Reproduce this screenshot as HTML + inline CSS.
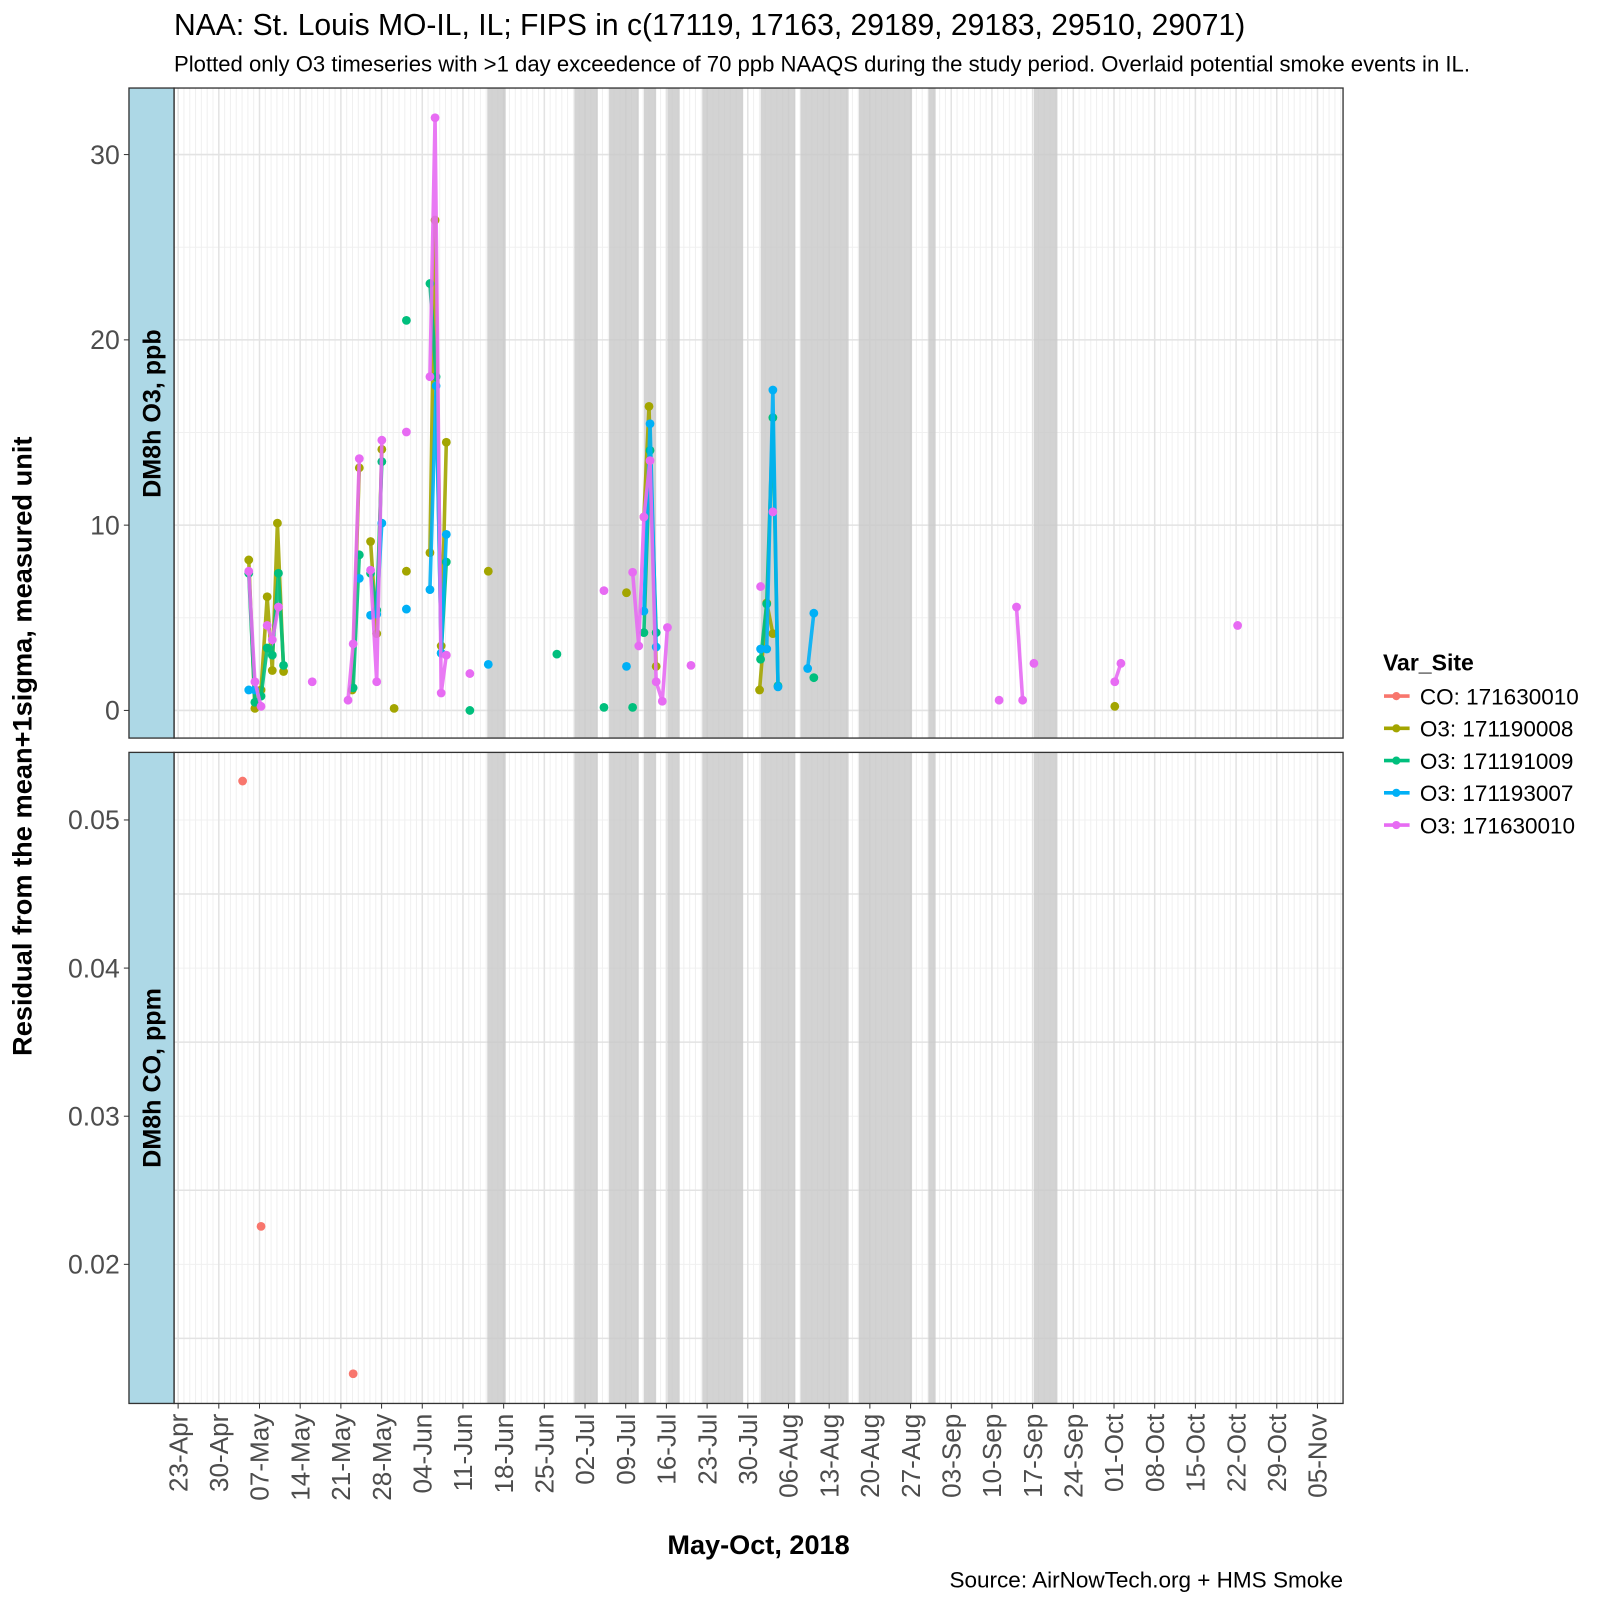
<!DOCTYPE html>
<html><head><meta charset="utf-8"><style>
body{margin:0;background:#fff}
svg text{font-family:"Liberation Sans",Arial,sans-serif}
</style></head><body>
<svg id="s" width="1600" height="1600" xmlns="http://www.w3.org/2000/svg">
<rect width="1600" height="1600" fill="#fff"/>
<g transform="scale(1.02367)">
<text x="170" y="34" font-size="29.4">NAA: St. Louis MO-IL, IL; FIPS in c(17119, 17163, 29189, 29183, 29510, 29071)</text>
<text x="170" y="70" font-size="21.6">Plotted only O3 timeseries with &gt;1 day exceedence of 70 ppb NAAQS during the study period. Overlaid potential smoke events in IL.</text>
<g id="g"></g>
<text x="741" y="1518" font-size="26.5" font-weight="bold" text-anchor="middle">May-Oct, 2018</text>
<text x="1312" y="1551" font-size="22" text-anchor="end">Source: AirNowTech.org + HMS Smoke</text>
<text transform="translate(31,729) rotate(-90)" font-size="26.6" font-weight="bold" text-anchor="middle">Residual from the mean+1sigma, measured unit</text>
<text x="1351" y="655" font-size="22.5" font-weight="bold">Var_Site</text>
</g>
</svg>
<script>
const g=document.getElementById('g');let h='';
const X0=170,X1=1312,P1=[86,721],P2=[735,1371];
const bands=[[476,494],[561,584],[595,624],[629,641],[652,664],[686,726],[743,777],[782,829],[839,891],[907,914],[1010,1033]];
const day=39.75/7;
function panel(T,B){
 for(let x=174-day*10;x<X1;x+=day){if(x>X0)h+=`<line x1="${x}" x2="${x}" y1="${T}" y2="${B}" stroke="#f0f0f0" stroke-width="1"/>`;}
}
panel(...P1);panel(...P2);
for(let v=-5;v<=35;v+=5){let y=694-18.1*v;if(y>P1[0]&&y<P1[1])h+=`<line x1="${X0}" x2="${X1}" y1="${y}" y2="${y}" stroke="${v%10?'#f0f0f0':'#e3e3e3'}" stroke-width="${v%10?1:1.5}"/>`;}
for(let k=0;k<10;k++){let v=0.01+k*0.005;let y=801-(v-0.05)*14470;if(y>P2[0]&&y<P2[1])h+=`<line x1="${X0}" x2="${X1}" y1="${y}" y2="${y}" stroke="${k%2?'#e3e3e3':'#f0f0f0'}" stroke-width="${k%2?1.5:1}"/>`;}
for(let k=0;k<29;k++){let x=174+39.75*k;[P1,P2].forEach(p=>h+=`<line x1="${x}" x2="${x}" y1="${p[0]}" y2="${p[1]}" stroke="#e3e3e3" stroke-width="1.5"/>`);}
bands.forEach(b=>[P1,P2].forEach(p=>h+=`<rect x="${b[0]}" y="${p[0]}" width="${b[1]-b[0]}" height="${p[1]-p[0]}" fill="#c8c8c8" opacity="0.8"/>`));
const S={
'#A3A500':[[[243,547],[249,692],[255,674],[261,583],[266,655],[271,511],[277,656]],[[344,674],[351,457]],[[362,529],[368,619],[373,439]],[[385,692]],[[397,558]],[[420,540],[425,215],[431,631],[436,432]],[[477,558]],[[612,579]],[[629,505],[634,397],[641,651]],[[742,674],[749,589],[755,619]],[[1089,690]]],
'#00BF7D':[[[243,560],[249,686],[255,680],[261,633],[266,640],[272,560],[277,650]],[[345,672],[351,542]],[[362,560],[368,596],[373,451]],[[397,313]],[[420,277],[426,368],[431,638],[436,549]],[[459,694]],[[544,639]],[[590,691]],[[618,691]],[[629,618],[635,440],[641,618]],[[743,644],[749,590],[755,408],[760,670]],[[795,662]]],
'#00B0F6':[[[243,674],[249,674]],[[351,565]],[[362,601],[368,600],[373,511]],[[397,595]],[[420,576],[426,377],[431,638],[436,522]],[[477,649]],[[612,651]],[[629,597],[635,414],[641,632]],[[743,634],[749,634],[755,381],[760,671]],[[789,653],[795,599]]],
'#E76BF3':[[[243,558],[249,666],[255,690]],[[261,611],[266,625],[272,593]],[[305,666]],[[340,684],[345,629],[351,448]],[[362,557],[368,666],[373,430]],[[397,422]],[[420,368],[425,115],[431,677],[436,640]],[[459,658]],[[590,577]],[[618,559],[624,631],[629,505],[635,450],[641,666],[647,685],[652,613]],[[675,650]],[[743,573]],[[755,500]],[[976,684]],[[993,593],[999,684]],[[1010,648]],[[1089,666],[1095,648]],[[1209,611]]]
};
for(const c in S){S[c].forEach(seg=>{if(seg.length>1)h+=`<polyline points="${seg.map(p=>p.join(',')).join(' ')}" fill="none" stroke="${c}" stroke-width="3.5" opacity="0.9"/>`;seg.forEach(p=>h+=`<circle cx="${p[0]}" cy="${p[1]}" r="4.3" fill="${c}"/>`);});}
[[237,763],[255,1198],[345,1342]].forEach(p=>h+=`<circle cx="${p[0]}" cy="${p[1]}" r="4.3" fill="#F8766D"/>`);
[P1,P2].forEach(p=>{h+=`<rect x="${X0}" y="${p[0]}" width="${X1-X0}" height="${p[1]-p[0]}" fill="none" stroke="#333" stroke-width="1.3"/>`;h+=`<rect x="126" y="${p[0]}" width="44" height="${p[1]-p[0]}" fill="#add8e6" stroke="#333" stroke-width="1.3"/>`;});
h+=`<text transform="translate(157,404) rotate(-90)" font-size="24.5" font-weight="bold" text-anchor="middle">DM8h O3, ppb</text>`;
h+=`<text transform="translate(157,1053) rotate(-90)" font-size="24.5" font-weight="bold" text-anchor="middle">DM8h CO, ppm</text>`;
[0,10,20,30].forEach(v=>{let y=694-18.1*v;h+=`<line x1="121" x2="126" y1="${y}" y2="${y}" stroke="#333"/><text x="117" y="${y+9}" font-size="26" fill="#4d4d4d" text-anchor="end">${v}</text>`;});
[0.02,0.03,0.04,0.05].forEach(v=>{let y=801-(v-0.05)*14470;h+=`<line x1="121" x2="126" y1="${y}" y2="${y}" stroke="#333"/><text x="117" y="${y+9}" font-size="26" fill="#4d4d4d" text-anchor="end">${v.toFixed(2)}</text>`;});
const labs=['23-Apr','30-Apr','07-May','14-May','21-May','28-May','04-Jun','11-Jun','18-Jun','25-Jun','02-Jul','09-Jul','16-Jul','23-Jul','30-Jul','06-Aug','13-Aug','20-Aug','27-Aug','03-Sep','10-Sep','17-Sep','24-Sep','01-Oct','08-Oct','15-Oct','22-Oct','29-Oct','05-Nov'];
labs.forEach((l,k)=>{let x=174+39.75*k;h+=`<line x1="${x}" x2="${x}" y1="1371" y2="1376" stroke="#333"/><text transform="translate(${x+9},1381) rotate(-90)" font-size="25.5" fill="#4d4d4d" text-anchor="end">${l}</text>`;});
const leg=[['#F8766D','CO: 171630010'],['#A3A500','O3: 171190008'],['#00BF7D','O3: 171191009'],['#00B0F6','O3: 171193007'],['#E76BF3','O3: 171630010']];
leg.forEach((e,i)=>{let y=680+31.5*i;h+=`<line x1="1352" x2="1377" y1="${y}" y2="${y}" stroke="${e[0]}" stroke-width="3.5"/><circle cx="1364" cy="${y}" r="4" fill="${e[0]}"/><text x="1387" y="${y+8}" font-size="22">${e[1]}</text>`;});
g.innerHTML=h;
</script>
</body></html>
